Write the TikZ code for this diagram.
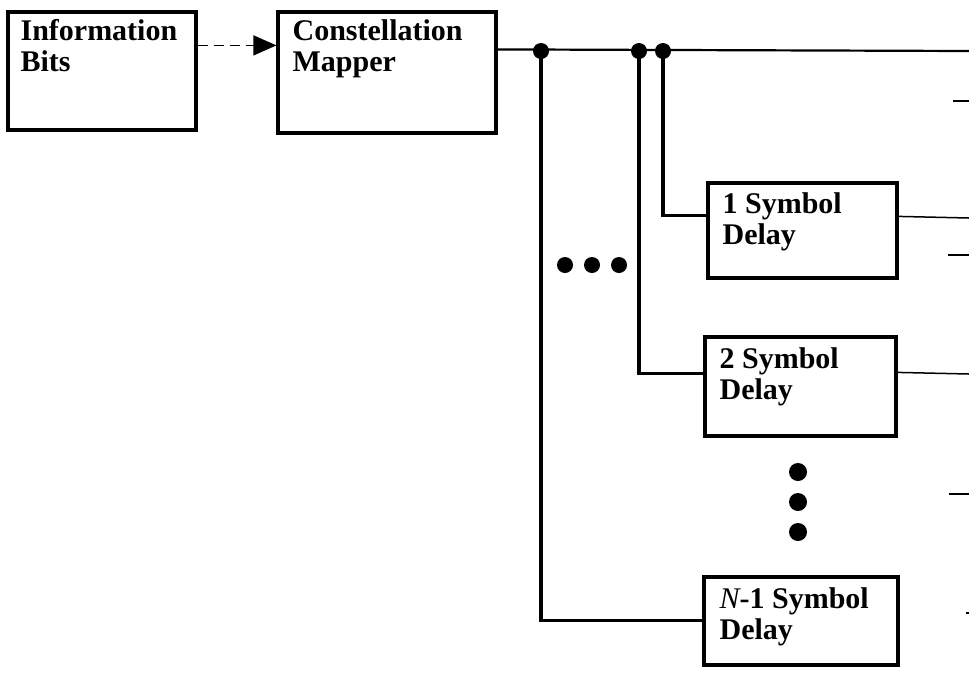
\documentclass[tikz,border=0pt]{standalone}
\usepackage{fontspec}
\setmainfont{Liberation Serif}
\usetikzlibrary{arrows.meta,calc}
\begin{document}
\begin{tikzpicture}[x=1pt,y=-1pt,
  box/.style={draw=black, line width=3.2pt, rectangle, inner sep=0pt},
  lbl/.style={font=\bfseries\fontsize{30}{31}\selectfont, align=left, inner sep=0pt, anchor=base west},
  wire/.style={line width=3.4pt},
  mainline/.style={line width=2.2pt},
  outline/.style={line width=1.5pt},
  dot/.style={fill=black}]
\useasboundingbox (0,0) rectangle (969,673);
% boxes
\node[box, minimum width=188pt, minimum height=118pt] (info) at (102,71) {};
\node[box, minimum width=218pt, minimum height=121pt] (mapper) at (387,72.5) {};
\node[box, minimum width=189pt, minimum height=95pt] (d1) at (802.5,230.5) {};
\node[box, minimum width=191pt, minimum height=99pt] (d2) at (800.5,386.5) {};
\node[box, minimum width=194pt, minimum height=88pt] (dN) at (801,621) {};
% labels (base anchor = baseline of the last line)
\node[lbl] (infot) at ([xshift=14pt,yshift=-61pt]info.north west) {Information\\Bits};
\node[lbl] (mappert) at ([xshift=16pt,yshift=-61pt]mapper.north west) {Constellation\\Mapper};
\node[lbl] (d1t) at ([xshift=16pt,yshift=-63pt]d1.north west) {1 Symbol\\Delay};
\node[lbl] (d2t) at ([xshift=16pt,yshift=-64pt]d2.north west) {2 Symbol\\Delay};
\node[lbl] (dNt) at ([xshift=17pt,yshift=-64pt]dN.north west) {{\mdseries\itshape N}-1 Symbol\\Delay};
% arrow
\draw[line width=1.3pt, dash pattern=on 10pt off 6pt, -{Triangle[length=23pt,width=20pt]}]
  ([yshift=-35pt]info.north east) -- ([yshift=-35pt]mapper.north west);
% main bus
\coordinate (j1) at (541,51);
\coordinate (j2) at (639,51);
\coordinate (j3) at (663,51);
\coordinate (busend) at (969,51);
\draw[mainline] ([yshift=-39pt]mapper.north east) -- (busend);
% branches
\draw[wire] (j3) |- ([yshift=-34pt]d1.north west);
\draw[wire] (j2) |- ([yshift=-38pt]d2.north west);
\draw[wire] (j1) |- ([yshift=-45pt]dN.north west);
\foreach \j in {j1,j2,j3} \fill[dot] (\j) circle[radius=8pt];
% outputs
\coordinate (o1) at (969,218);
\coordinate (o2) at (969,374);
\draw[outline] ([yshift=-35pt]d1.north east) -- (o1);
\draw[outline] ([yshift=-37pt]d2.north east) -- (o2);
% stubs at right edge
\coordinate (s1a) at (953,101); \coordinate (s1b) at (969,101);
\coordinate (s2a) at (948,255); \coordinate (s2b) at (969,255);
\coordinate (s3a) at (949,494); \coordinate (s3b) at (969,494);
\coordinate (s4a) at (966,613); \coordinate (s4b) at (969,613);
\draw[outline] (s1a) -- (s1b);
\draw[outline] (s2a) -- (s2b);
\draw[outline] (s3a) -- (s3b);
\draw[outline] (s4a) -- (s4b);
% ellipsis dots
\foreach \x in {565,592,619} \fill[dot] (\x,265) circle[radius=8pt];
\foreach \y in {472,502,532} \fill[dot] (798,\y) circle[radius=9pt];
\end{tikzpicture}
\end{document}
